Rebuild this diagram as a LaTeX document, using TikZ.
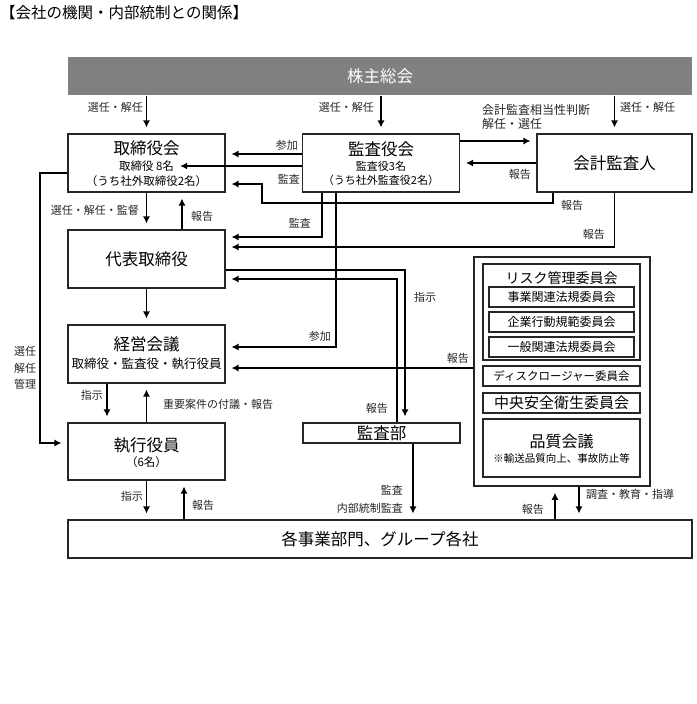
\documentclass[tikz,border=0pt]{standalone}
\usepackage{fontspec}
\setmainfont{Noto Sans CJK JP}
\usetikzlibrary{arrows.meta}
\definecolor{soukaigray}{RGB}{128,128,128}

\begin{document}
\begin{tikzpicture}[x=1pt,y=-1pt,
  box/.style={draw=black!85,line width=1.1pt,minimum width=157pt,minimum height=58pt,inner sep=0pt},
  big/.style={font=\fontsize{16.5}{20}\selectfont},
  sub/.style={font=\fontsize{11.5}{14}\selectfont,inner sep=0pt},
  iin/.style={box,minimum width=145pt,minimum height=20pt,font=\fontsize{12}{14}\selectfont},
  lbl/.style={font=\fontsize{11}{14}\selectfont,inner sep=0pt,text=black!85},
  arr/.style={-{Latex[length=7pt,width=7pt]},line width=1.2pt,shorten >=6pt}]
\useasboundingbox (0,0) rectangle (696,704);
\node[anchor=west,inner sep=0pt,font=\fontsize{15.5}{18}\selectfont] (title) at (0,13) {【会社の機関・内部統制との関係】};
\node[box,big,fill=soukaigray,draw=none,text=white,minimum width=624pt,minimum height=38pt] (soukai) at (380,76) {株主総会};

\node[box] (tori) at (146.5,163) {};
\node[big] (tori-t) at (146.5,148) {取締役会};
\node[sub] (tori-n) at (146.5,166) {取締役 8名};
\node[sub] (tori-s) at (146.5,181) {（うち社外取締役2名）};
\node[box] (kansa) at (381,163) {};
\node[big] (kansa-t) at (381,149) {監査役会};
\node[sub,font=\fontsize{11}{13}\selectfont] (kansa-n) at (381,166) {監査役3名};
\node[sub,font=\fontsize{11}{13}\selectfont] (kansa-s) at (381,180) {（うち社外監査役2名）};
\node[box,big,minimum width=155pt] (kaikei) at (614.5,163) {会計監査人};
\node[box,big] (daihyo) at (146.5,259) {代表取締役};
\node[box] (keiei) at (146.5,354) {};
\node[big] (keiei-t) at (146.5,344) {経営会議};
\node[sub,font=\fontsize{12.5}{14}\selectfont] (keiei-s) at (146.5,364) {取締役・監査役・執行役員};
\node[box,minimum height=57pt] (shikko) at (146.5,451.5) {};
\node[big] (shikko-t) at (146.5,445) {執行役員};
\node[sub] (shikko-n) at (146.5,462) {（6名）};
\node[box,big,minimum height=20pt] (kansabu) at (381.5,433) {監査部};
\node[box,big,minimum width=624pt,minimum height=38pt] (kakuji) at (380,539) {各事業部門、グループ各社};

\node[box,line width=1.6pt,minimum width=176pt,minimum height=229pt] (iinkai) at (562,371.5) {};
\node[box,minimum height=96pt] (risk) at (561.5,312) {};
\node[font=\fontsize{14}{16}\selectfont,inner sep=0pt] (risk-t) at (561.5,278) {リスク管理委員会};
\node[iin] (jigyo) at (561.5,297) {事業関連法規委員会};
\node[iin] (kigyo) at (561.5,322) {企業行動規範委員会};
\node[iin] (ippan) at (561.5,347) {一般関連法規委員会};
\node[box,minimum height=20pt,font=\fontsize{11.5}{14}\selectfont] (disc) at (561.5,376) {ディスクロージャー委員会};
\node[box,minimum height=20pt,font=\fontsize{15}{17}\selectfont] (chuo) at (561.5,403) {中央安全衛生委員会};
\node[box] (hinshitsu) at (561.5,448) {};
\node[font=\fontsize{16}{18}\selectfont,inner sep=0pt] (hinshitsu-t) at (561.5,441) {品質会議};
\node[font=\fontsize{10.5}{12}\selectfont,inner sep=0pt] (hinshitsu-s) at (561.5,458) {※輸送品質向上、事故防止等};

\draw[arr] (soukai.south -| tori) -- (tori);
\draw[arr] (soukai.south -| kansa) -- (kansa);
\draw[arr] (soukai.south -| kaikei) -- (kaikei);
\draw[arr] (kansa.west |- 0,154) -- (tori.east |- 0,154);
\draw[arr] (kansa.west |- tori-n) -- (tori-n.east);
\draw[arr] (kaikei.south -| 553,0) -- (553,203) -- (262,203) |- (tori.east |- 0,184);
\draw[arr] (kansa.east |- 0,141) -- (kaikei.west |- 0,141);
\draw[arr] (kaikei.west |- 0,163) -- (kansa.east |- 0,163);
\draw[arr] (kansa.south -| 322,0) |- (daihyo.east |- 0,237);
\draw[arr] (kansa.south -| 336,0) |- (keiei.east |- 0,347);
\draw[arr] (kaikei.south) |- (daihyo.east |- 0,247);
\draw[arr] (tori) -- (daihyo);
\draw[arr] (daihyo.north -| 182,0) -- (tori.south -| 182,0);
\draw[arr] (daihyo.east |- 0,270) -| (kansabu.north -| 405,0);
\draw[arr] (kansabu.north -| 397,0) |- (daihyo.east |- 0,279);
\draw[arr] (daihyo) -- (keiei);
\draw[arr] (iinkai.west |- 0,368) -- (keiei.east |- 0,368);
\draw[arr] (keiei.south -| 107,0) -- (shikko.north -| 107,0);
\draw[arr] (shikko) -- (keiei);
\draw[arr] (tori.west |- 0,173) -- (40,173) |- (shikko.west |- 0,443);
\draw[arr] (shikko.south) -- (shikko.south |- kakuji.north);
\draw[arr] (kakuji.north -| 184,0) -- (shikko.south -| 184,0);
\draw[arr] (kansabu.south -| 413,0) -- (kakuji.north -| 413,0);
\draw[arr] (kakuji.north -| 555,0) -- (iinkai.south -| 555,0);
\draw[arr] (iinkai.south -| 579,0) -- (kakuji.north -| 579,0);

\node[lbl,anchor=east] (l-sennin1) at (143,107) {選任・解任};
\node[lbl,anchor=east] (l-sennin2) at (374,107) {選任・解任};
\node[lbl,anchor=west] (l-sennin3) at (620,107) {選任・解任};
\node[lbl,anchor=west,align=left,font=\fontsize{12}{14}\selectfont] (l-soutou) at (482,117) {会計監査相当性判断\\解任・選任};
\node[lbl,anchor=east] (l-sanka1) at (298,145) {参加};
\node[lbl,anchor=east] (l-kansa1) at (300,179) {監査};
\node[lbl,anchor=east] (l-hokoku1) at (531,174) {報告};
\node[lbl,anchor=west] (l-hokoku2) at (561,205) {報告};
\node[lbl,anchor=east] (l-kantoku) at (139,210) {選任・解任・監督};
\node[lbl,anchor=west] (l-hokoku3) at (191,216) {報告};
\node[lbl,anchor=east] (l-kansa2) at (311,223) {監査};
\node[lbl,anchor=east] (l-hokoku4) at (605,234) {報告};
\node[lbl,anchor=west] (l-shiji1) at (414,297) {指示};
\node[lbl,anchor=east] (l-sanka2) at (331,336) {参加};
\node[lbl,anchor=east] (l-hokoku5) at (469,358) {報告};
\node[lbl,anchor=east] (l-hokoku6) at (388,408) {報告};
\node[lbl,align=center,font=\fontsize{11}{16.5}\selectfont] (l-kanri) at (25,368) {選任\\解任\\管理};
\node[lbl,anchor=east] (l-shiji2) at (103,395) {指示};
\node[lbl,anchor=west] (l-fugi) at (163,404) {重要案件の付議・報告};
\node[lbl,anchor=east] (l-shiji3) at (143,496) {指示};
\node[lbl,anchor=west] (l-hokoku7) at (192,505) {報告};
\node[lbl,anchor=east,align=right,font=\fontsize{11}{18}\selectfont] (l-naibu) at (403,499) {監査\\内部統制監査};
\node[lbl,anchor=east] (l-hokoku8) at (544,509) {報告};
\node[lbl,anchor=west] (l-chousa) at (586,494) {調査・教育・指導};
\end{tikzpicture}
\end{document}
